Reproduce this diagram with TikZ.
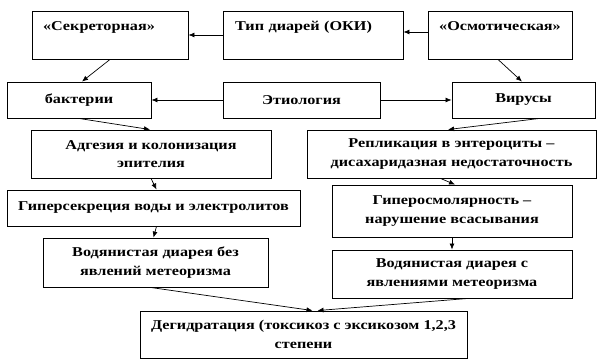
\documentclass[tikz,border=0pt]{standalone}
\usepackage{fontspec}
\setmainfont{Liberation Serif}[FakeStretch=1.2]
\usetikzlibrary{arrows.meta}

\begin{document}
\begin{tikzpicture}[x=1pt, y=-1pt,
    box/.style={draw, line width=0.9pt, inner sep=0pt, align=center,
      font=\bfseries\fontsize{13.5}{18.5}\selectfont},
    lbox/.style={box, align=left, inner xsep=11pt},
    arr/.style={line width=0.7pt, -{Latex[length=6pt,width=5pt]}}]
    %\draw[step=10, gray,very thin] (0,0) grid (601,363);
    \useasboundingbox (0,0) rectangle (601,363);

    \node[lbox, text width=134pt, minimum height=48pt] (sekr) at (110,35) {«Секреторная»\\ \mbox{}};
    \node[lbox, text width=156pt, minimum height=48pt, inner xsep=12pt] (tip) at (313,35) {Тип диарей (ОКИ)\\ \mbox{}};
    \node[box, minimum width=144pt, minimum height=48pt] (osm) at (500,35) {«Осмотическая»\\ \mbox{}};

    \node[box, minimum width=144pt, minimum height=36pt] (bakt) at (79,100) {бактерии};
    \node[box, minimum width=157pt, minimum height=36pt] (etio) at (301.5,100) {Этиология};
    \node[box, minimum width=143pt, minimum height=36pt] (vir) at (523.5,100) {Вирусы};

    \node[box, minimum width=240pt, minimum height=48pt] (adg) at (151,154) {Адгезия и колонизация\\эпителия};
    \node[box, minimum width=289pt, minimum height=48pt] (repl) at (451.5,154) {Репликация в энтероциты –\\дисахаридазная недостаточность};

    \node[box, minimum width=293pt, minimum height=36pt] (giper) at (153.5,208) {Гиперсекреция воды и электролитов};
    \node[box, minimum width=240pt, minimum height=52pt] (osmol) at (452,211) {Гиперосмолярность –\\нарушение всасывания};

    \node[box, minimum width=225pt, minimum height=49pt] (vodb) at (155.5,262.5) {Водянистая диарея без\\явлений метеоризма};
    \node[box, minimum width=240pt, minimum height=48pt] (vodc) at (452,274) {Водянистая диарея с\\явлениями метеоризма};

    \node[box, minimum width=327pt, minimum height=47pt] (degid) at (303.5,334.5) {Дегидратация (токсикоз с эксикозом 1,2,3\\степени};

    \begin{scope}[arr]
    \draw (tip.west) -- (sekr.east);
    \draw[{Latex[length=6pt,width=5pt]}-] ([yshift=3pt]tip.east) -- ([yshift=3pt]osm.west);
    \draw (sekr.south) -- ([xshift=3pt]bakt.north);
    \draw ([xshift=-2pt]osm.south) -- ([xshift=-1.5pt]vir.north);
    \draw (etio.west) -- (bakt.east);
    \draw (etio.east) -- (vir.west);
    \draw (bakt.south) -- ([xshift=-1pt]adg.north);
    \draw ([xshift=16pt]vir.south) -- ([xshift=-3.5pt]repl.north);
    \draw (adg.south) -- ([xshift=3pt]giper.north);
    \draw ([xshift=3pt]giper.south) -- ([xshift=-2pt]vodb.north);
    \draw ([xshift=-11pt]repl.south) -- ([xshift=3pt]osmol.north);
    \draw (osmol.south) -- (vodc.north);
    \draw ([xshift=-5pt]vodb.south) -- ([xshift=9pt]degid.north);
    \draw ([xshift=16pt]vodc.south) -- ([xshift=14pt]degid.north);
    \end{scope}
\end{tikzpicture}
\end{document}
